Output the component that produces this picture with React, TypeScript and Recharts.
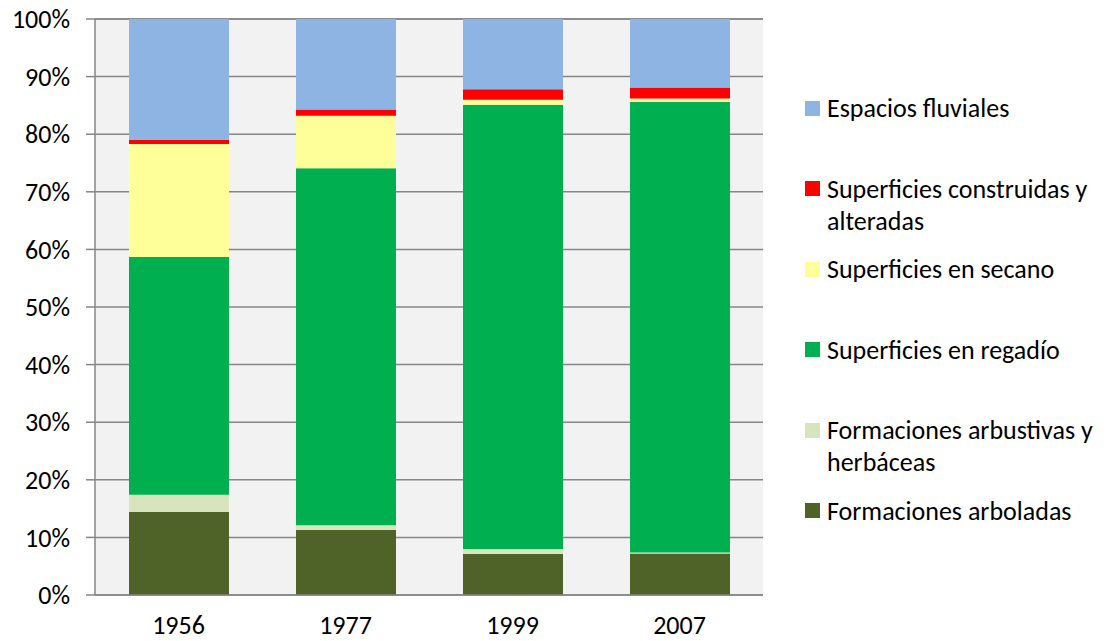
import { Bar, BarChart, CartesianGrid, Legend, XAxis, YAxis } from "recharts";

const years = ["1956", "1977", "1999", "2007"];
const arboladas = [14.4, 11.3, 7.1, 7.2];
const arbustivas = [3.0, 0.8, 0.9, 0.2];
const regadio = [41.3, 62.0, 77.1, 78.2];
const secano = [19.6, 9.1, 0.9, 0.6];
const construidas = [0.7, 1.1, 1.8, 1.9];
const fluviales = [21.0, 15.7, 12.2, 11.9];
const yTicks = [0, 10, 20, 30, 40, 50, 60, 70, 80, 90, 100];
const edgeTicks = [0, 1, 2, 3, 4];

const series = [
  { key: "arboladas", name: "Formaciones arboladas", color: "#4F6228" },
  { key: "arbustivas", name: "Formaciones arbustivas y herbáceas", color: "#D7E4BD" },
  { key: "regadio", name: "Superficies en regadío", color: "#00B050" },
  { key: "secano", name: "Superficies en secano", color: "#FFFF99" },
  { key: "construidas", name: "Superficies construidas y alteradas", color: "#FF0000" },
  { key: "fluviales", name: "Espacios fluviales", color: "#8EB4E3" },
];

const data = years.map((year, i) => ({
  year,
  arboladas: arboladas[i],
  arbustivas: arbustivas[i],
  regadio: regadio[i],
  secano: secano[i],
  construidas: construidas[i],
  fluviales: fluviales[i],
}));

const FONT = "Carlito, Lato, 'Open Sans', sans-serif";
const AXIS = "#868686";
const FS = 26;

// legend lists the top of the stack first, like the original
function LegendBox() {
  const items = [...series].reverse();
  return (
    <div style={{ fontFamily: FONT, fontSize: FS, color: "#000" }}>
      {items.map((item) => (
        <div key={item.key} style={{ display: "flex", height: 80.6, alignItems: "flex-start" }}>
          <span
            style={{
              width: 15,
              height: 15,
              background: item.color,
              marginTop: 8.5,
              marginRight: 7,
              flex: "none",
            }}
          />
          <span style={{ width: 285, lineHeight: "32px" }}>{item.name}</span>
        </div>
      ))}
    </div>
  );
}

export default function App() {
  return (
    <div style={{ position: "absolute", left: 0, top: 0, width: 1107, height: 641, background: "#fff" }}>
      <BarChart
        width={1107}
        height={641}
        data={data}
        margin={{ top: 19, right: 344, left: 0, bottom: 0 }}
        style={{ fontFamily: FONT }}
      >
        <CartesianGrid vertical={false} fill="#F2F2F2" stroke={AXIS} strokeWidth={1.5} />
        <XAxis
          xAxisId="edges"
          type="number"
          domain={[0, 4]}
          ticks={edgeTicks}
          height={0}
          axisLine={false}
          tickLine={{ stroke: AXIS, strokeWidth: 1.5 }}
          tickSize={8}
          tickFormatter={() => ""}
        />
        <XAxis
          dataKey="year"
          height={46}
          axisLine={{ stroke: AXIS, strokeWidth: 1.5 }}
          tickLine={false}
          tickSize={0}
          tickMargin={21}
          tick={{ fontSize: FS, fill: "#000" }}
        />
        <YAxis
          width={95}
          domain={[0, 100]}
          ticks={yTicks}
          interval={0}
          tickFormatter={(v: number) => `${v}%`}
          axisLine={{ stroke: AXIS, strokeWidth: 1.5 }}
          tickLine={{ stroke: AXIS, strokeWidth: 1.5 }}
          tickSize={9}
          tickMargin={16}
          tick={{ fontSize: FS, fill: "#000" }}
        />
        {series.map((s) => (
          <Bar
            key={s.key}
            dataKey={s.key}
            name={s.name}
            stackId="a"
            fill={s.color}
            barSize={100}
            isAnimationActive={false}
          />
        ))}
        <Legend
          layout="vertical"
          verticalAlign="middle"
          align="center"
          content={<LegendBox />}
          wrapperStyle={{ left: 805, top: 92, width: 302 }}
        />
      </BarChart>
    </div>
  );
}
